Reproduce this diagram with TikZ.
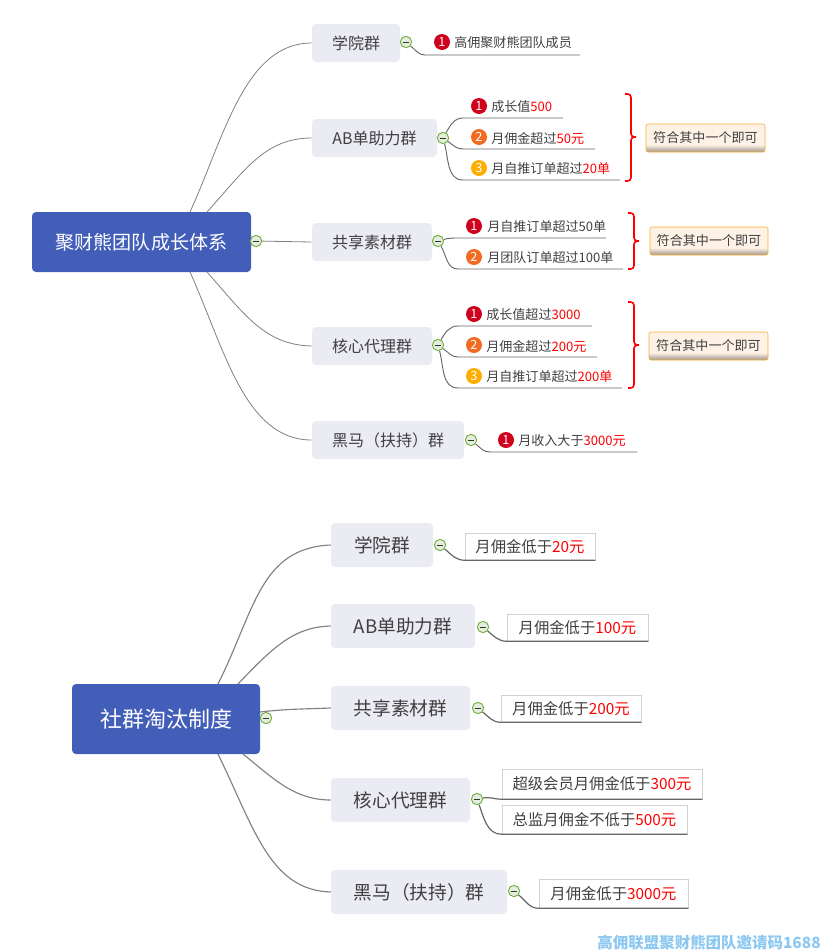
\documentclass[tikz,border=0pt]{standalone}
\usepackage{fontspec}
\setmainfont{Noto Sans CJK SC}
\usetikzlibrary{shadows}
\definecolor{rootblue}{HTML}{435EB9}
\definecolor{grpfill}{HTML}{EAEBF3}
\definecolor{txtgray}{HTML}{404040}
\definecolor{notefill}{HTML}{FEF1E6}
\definecolor{noteshade}{HTML}{A89C92}
\definecolor{noteline}{HTML}{F7AE2B}
\definecolor{nred}{HTML}{D0021B}
\definecolor{norange}{HTML}{F26B21}
\definecolor{nyellow}{HTML}{FFAD00}
\definecolor{iconline}{HTML}{6FB13A}
\definecolor{iconfill}{HTML}{E6ECE4}
\definecolor{markblue}{HTML}{8CC8F0}
\pgfdeclareverticalshading{notefade}{100bp}{color(0bp)=(noteshade); color(26bp)=(noteshade); color(38bp)=(notefill); color(100bp)=(notefill)}
\newcommand{\hl}[1]{\textcolor{red}{#1}}
\tikzset{
  sz/.style 2 args={minimum width=#1*.75pt,minimum height=#2*.75pt,inner sep=0pt},
  rootbox/.style={fill=rootblue,rounded corners=3pt,text=white},
  grpbox/.style={fill=grpfill,rounded corners=3pt,text=txtgray},
  small/.style={grpbox,font=\fontsize{12}{14}\selectfont},
  big/.style={grpbox,font=\fontsize{14}{16}\selectfont},
  leaf/.style={anchor=west,inner sep=0pt,text=txtgray,font=\fontsize{9.8}{11}\selectfont},
  leafbox/.style={draw=black!18,fill=white,text=txtgray,drop shadow={shadow xshift=.8pt,shadow yshift=-.8pt,fill=black!18,opacity=1},font=\fontsize{11.5}{13}\selectfont},
  notebox/.style={draw=noteline,rounded corners=1.5pt,shading=notefade,text=txtgray,font=\fontsize{9.8}{11}\selectfont},
  icon/.style={circle,draw=iconline,fill=iconfill,line width=.7pt,minimum size=8.5pt,inner sep=0pt,path picture={\draw[black!65!iconline,line width=.6pt] (path picture bounding box.west) ++(1.8pt,0) -- ++(5pt,0);}},
  num/.style={circle,fill=#1,text=white,minimum size=12pt,inner sep=0pt,font=\fontsize{9.5}{10}\selectfont},
  main/.style={black!50,line width=.6pt},
  twig/.style={black!60,line width=.7pt},
  mainb/.style={black!50,line width=.85pt},
  twigb/.style={black!60,line width=.9pt},
  bracket/.style={red,line width=1.2pt,rounded corners=2.5pt}
}
\begin{document}
\begin{tikzpicture}[x=.75pt,y=-.75pt]
  \useasboundingbox (0,0) rectangle (822,950);
  % upper map
  \node[rootbox,sz={219}{60},font=\fontsize{14.3}{16}\selectfont] (rootA) at (141.5,242) {聚财熊团队成长体系};
  \node[small,sz={88}{38}] (a1) at (356,43) {学院群};
  \node[small,sz={125}{38}] (a2) at (374.5,138) {AB单助力群};
  \node[small,sz={120}{38}] (a3) at (372,242) {共享素材群};
  \node[small,sz={120}{38}] (a4) at (372,346) {核心代理群};
  \node[small,sz={152}{38}] (a5) at (388,440) {黑马（扶持）群};
  \coordinate (ra) at (190,212);
  \coordinate (rb) at (207,212);
  \coordinate (rc) at (190,272);
  \coordinate (rd) at (207,272);
  \node[icon] (iA) at (256,241) {};
  \node[icon] (i1) at (406,42) {};
  \node[icon] (i2) at (443,138) {};
  \node[icon] (i3) at (438,241) {};
  \node[icon] (i4) at (438,345) {};
  \node[icon] (i5) at (471,440) {};
  \begin{scope}[main]
    \draw (ra) .. controls (225,135) and (245,43) .. (a1.west);
    \draw (rb) .. controls (245,170) and (265,138) .. (a2.west);
    \draw (iA) to (a3.west);
    \draw (rd) .. controls (245,315) and (265,345) .. (a4.west);
    \draw (rc) .. controls (225,350) and (245,440) .. (a5.west);
  \end{scope}

  \node[num=nred] (n1) at (442,42) {1};
  \node[leaf] (t1) at (454,43) {高佣聚财熊团队成员};
  \coordinate (u1) at (425,55);
  \coordinate (v1) at (580,55);
  \draw[twig] (i1) to[out=-40,in=180] (u1) -- (v1);

  \node[num=nred] (n21) at (479,106) {1};
  \node[num=norange] (n22) at (479,137) {2};
  \node[num=nyellow] (n23) at (479,168) {3};
  \node[leaf] (t21) at (491,107) {成长值\hl{500}};
  \node[leaf] (t22) at (491,138) {月佣金超过\hl{50元}};
  \node[leaf] (t23) at (491,169) {月自推订单超过\hl{20单}};
  \coordinate (u21) at (463,118);
  \coordinate (v21) at (563,118);
  \coordinate (u22) at (463,149);
  \coordinate (v22) at (595,149);
  \coordinate (u23) at (463,180);
  \coordinate (v23) at (620,180);
  \draw[twig] (i2) to[out=60,in=180] (u21) -- (v21);
  \draw[twig] (i2) to[out=-35,in=180] (u22) -- (v22);
  \draw[twig] (i2) to[out=-75,in=180] (u23) -- (v23);
  \coordinate (b2a) at (625,94);
  \coordinate (b2t) at (638,137);
  \coordinate (b2b) at (625,181);
  \draw[bracket] (b2a) -- ++(6,0) |- (b2t) -- ++(-7,0) |- (b2b);
  \node[notebox,sz={119}{28}] (c2) at (705.5,138) {符合其中一个即可};

  \node[num=nred] (n31) at (474,226) {1};
  \node[num=norange] (n32) at (474,257) {2};
  \node[leaf] (t31) at (487,227) {月自推订单超过50单};
  \node[leaf] (t32) at (487,258) {月团队订单超过100单};
  \coordinate (u31) at (458,238);
  \coordinate (v31) at (606,238);
  \coordinate (u32) at (458,269);
  \coordinate (v32) at (623,269);
  \draw[twig] (i3) to[out=15,in=180] (u31) -- (v31);
  \draw[twig] (i3) to[out=-60,in=180] (u32) -- (v32);
  \coordinate (b3a) at (628,213);
  \coordinate (b3t) at (641,241);
  \coordinate (b3b) at (628,269);
  \draw[bracket] (b3a) -- ++(6,0) |- (b3t) -- ++(-7,0) |- (b3b);
  \node[notebox,sz={118}{28}] (c3) at (709,241) {符合其中一个即可};

  \node[num=nred] (n41) at (474,314) {1};
  \node[num=norange] (n42) at (474,345) {2};
  \node[num=nyellow] (n43) at (474,376) {3};
  \node[leaf] (t41) at (486,315) {成长值超过\hl{3000}};
  \node[leaf] (t42) at (486,346) {月佣金超过\hl{200元}};
  \node[leaf] (t43) at (486,377) {月自推订单超过\hl{200单}};
  \coordinate (u41) at (458,326);
  \coordinate (v41) at (592,326);
  \coordinate (u42) at (458,357);
  \coordinate (v42) at (597,357);
  \coordinate (u43) at (458,388);
  \coordinate (v43) at (622,388);
  \draw[twig] (i4) to[out=60,in=180] (u41) -- (v41);
  \draw[twig] (i4) to[out=-35,in=180] (u42) -- (v42);
  \draw[twig] (i4) to[out=-75,in=180] (u43) -- (v43);
  \coordinate (b4a) at (628,302);
  \coordinate (b4t) at (641,345);
  \coordinate (b4b) at (628,388);
  \draw[bracket] (b4a) -- ++(6,0) |- (b4t) -- ++(-7,0) |- (b4b);
  \node[notebox,sz={119}{28}] (c4) at (708.5,346) {符合其中一个即可};

  \node[num=nred] (n5) at (506,440) {1};
  \node[leaf] (t5) at (518,441) {月收入大于\hl{3000元}};
  \coordinate (u5) at (490,452);
  \coordinate (v5) at (637,452);
  \draw[twig] (i5) to[out=-40,in=180] (u5) -- (v5);

  % lower map
  \node[rootbox,sz={188}{70},font=\fontsize{16.5}{18}\selectfont] (rootB) at (166,719) {社群淘汰制度};
  \node[big,sz={102}{44}] (b1) at (382,545) {学院群};
  \node[big,sz={144}{44}] (b2) at (403,626) {AB单助力群};
  \node[big,sz={139}{44}] (b3) at (400.5,708) {共享素材群};
  \node[big,sz={139}{44}] (b4) at (400.5,800) {核心代理群};
  \node[big,sz={176}{44}] (b5) at (419,892) {黑马（扶持）群};
  \coordinate (sa) at (218,684);
  \coordinate (sb) at (238,684);
  \coordinate (sc) at (260,712);
  \coordinate (sd) at (218,754);
  \coordinate (se) at (243,754);
  \node[icon] (jB) at (266,718) {};
  \node[icon] (j1) at (440,545) {};
  \node[icon] (j2) at (483,627) {};
  \node[icon] (j3) at (478,708) {};
  \node[icon] (j4) at (477,799) {};
  \node[icon] (j5) at (514,891) {};
  \begin{scope}[mainb]
    \draw (sa) .. controls (255,610) and (260,548) .. (b1.west);
    \draw (sb) .. controls (275,645) and (295,627) .. (b2.west);
    \draw (sc) .. controls (285,709) and (305,709) .. (b3.west);
    \draw (se) .. controls (275,780) and (295,800) .. (b4.west);
    \draw (sd) .. controls (255,830) and (270,890) .. (b5.west);
  \end{scope}

  \node[leafbox,sz={130}{27}] (d1) at (530,546.5) {月佣金低于\hl{20元}};
  \node[leafbox,sz={141}{27}] (d2) at (577.5,627.5) {月佣金低于\hl{100元}};
  \node[leafbox,sz={140}{27}] (d3) at (571,708.5) {月佣金低于\hl{200元}};
  \node[leafbox,sz={200}{30}] (d41) at (602,784) {超级会员月佣金低于\hl{300元}};
  \node[leafbox,sz={185}{29}] (d42) at (594.5,819.5) {总监月佣金不低于\hl{500元}};
  \node[leafbox,sz={149}{29}] (d5) at (613.5,893.5) {月佣金低于\hl{3000元}};
  \draw[twigb] (j1) to[out=-40,in=180] (d1.south west) -- (d1.south east);
  \draw[twigb] (j2) to[out=-40,in=180] (d2.south west) -- (d2.south east);
  \draw[twigb] (j3) to[out=-40,in=180] (d3.south west) -- (d3.south east);
  \draw[twigb] (j4) to[out=10,in=180] (d41.south west) -- (d41.south east);
  \draw[twigb] (j4) to[out=-70,in=180] (d42.south west) -- (d42.south east);
  \draw[twigb] (j5) to[out=-40,in=180] (d5.south west) -- (d5.south east);

  \node[anchor=south east,inner sep=0pt,text=markblue,font=\fontsize{11.6}{13}\bfseries\selectfont] (mark) at (821,950) {高佣联盟聚财熊团队邀请码1688};
\end{tikzpicture}
\end{document}
